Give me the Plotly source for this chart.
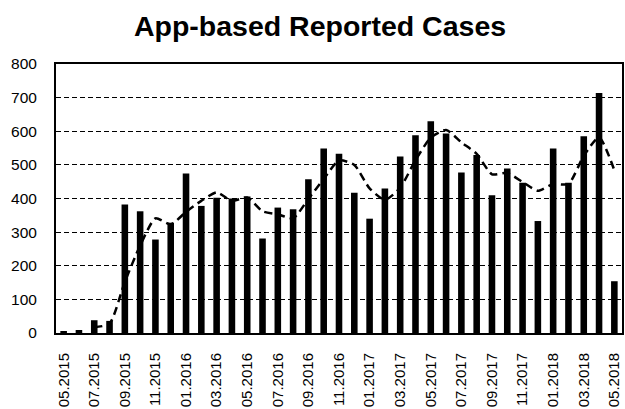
import plotly.graph_objects as go

months = ["05.2015", "06.2015", "07.2015", "08.2015", "09.2015", "10.2015", "11.2015", "12.2015",
          "01.2016", "02.2016", "03.2016", "04.2016", "05.2016", "06.2016", "07.2016", "08.2016",
          "09.2016", "10.2016", "11.2016", "12.2016", "01.2017", "02.2017", "03.2017", "04.2017",
          "05.2017", "06.2017", "07.2017", "08.2017", "09.2017", "10.2017", "11.2017", "12.2017",
          "01.2018", "02.2018", "03.2018", "04.2018", "05.2018"]

cases = [5, 9, 38, 36, 382, 362, 278, 328, 474, 378, 402, 400, 406, 281, 373, 368,
         457, 549, 533, 417, 340, 430, 525, 588, 630, 593, 477, 529, 410, 489, 447, 333,
         549, 447, 585, 714, 154]

trend_months = months[2:]
trend = [17, 28, 152, 260, 341, 323, 360, 393, 418, 393, 403, 362, 353, 341, 399,
         458, 513, 500, 430, 396, 432, 514, 581, 604, 567, 533, 472, 476, 449, 423,
         443, 443, 527, 582, 484]

tick_labels = months[::2]
y_ticks = [0, 100, 200, 300, 400, 500, 600, 700, 800]

FONT = "Liberation Sans, Arial, sans-serif"

fig = go.Figure()
fig.add_trace(go.Bar(x=months, y=cases, marker=dict(color="black", line=dict(width=0)),
                     showlegend=False))
fig.add_trace(go.Scatter(x=trend_months, y=trend, mode="lines",
                         line=dict(color="black", width=2.5, dash="8px,5px", shape="spline", smoothing=0.6),
                         showlegend=False))

fig.update_layout(
    width=625, height=409,
    margin=dict(l=56, r=3, t=64, b=76),
    paper_bgcolor="white", plot_bgcolor="white",
    bargap=0.57,
    font=dict(family=FONT, color="black"),
    title=dict(text="<b>App-based Reported Cases</b>", x=0.512, xanchor="center",
               y=1 - 26 / 409, yanchor="middle",
               font=dict(size=28.5, family=FONT, color="black")),
)
fig.update_xaxes(
    type="category", categoryorder="array", categoryarray=months,
    tickmode="array", tickvals=tick_labels, ticktext=tick_labels,
    tickangle=-90, tickfont=dict(size=15, family=FONT, color="black"),
    showline=True, linecolor="black", linewidth=2, mirror=True,
    showgrid=False, ticks="", ticklabelstandoff=12, automargin=False,
)
fig.update_yaxes(
    range=[0, 800], tickmode="array", tickvals=y_ticks,
    tickfont=dict(size=15.5, family=FONT, color="black"),
    showline=True, linecolor="black", linewidth=2, mirror=True,
    showgrid=True, gridcolor="black", gridwidth=1, griddash="5px,3px",
    zeroline=False, ticks="", ticklabelstandoff=14, automargin=False,
)

fig.write_html("out.html", config={"displayModeBar": False},
               post_script="document.body.style.margin='0px';")
